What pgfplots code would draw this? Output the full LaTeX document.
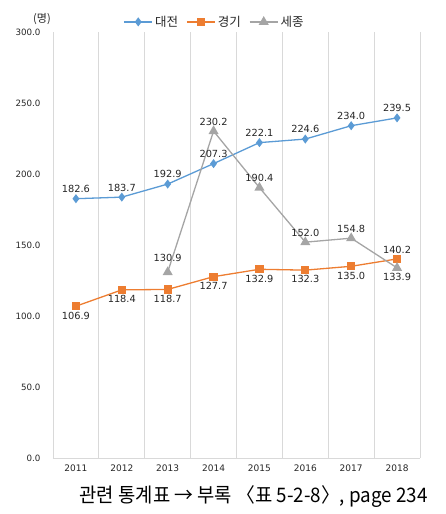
\documentclass[border=0pt]{standalone}
\usepackage{fontspec}
\setmainfont{Noto Sans CJK KR}
\newfontfamily\numfont{DejaVu Sans}
\usepackage{pgfplots}
\pgfplotsset{compat=1.18}
\definecolor{cBlue}{RGB}{91,155,213}
\definecolor{cOrange}{RGB}{237,125,49}
\definecolor{cGray}{RGB}{165,165,165}
\definecolor{gridc}{RGB}{217,217,217}
\definecolor{txt}{RGB}{38,38,38}
\begin{document}
\begin{tikzpicture}
\useasboundingbox (-53pt,-56pt) rectangle (393pt,458pt);
\begin{axis}[
  at={(0,0)}, anchor=south west,
  scale only axis, width=367pt, height=426pt,
  xmin=-0.5, xmax=7.5, ymin=0, ymax=300,
  xtick={0,...,7}, xticklabels={2011,2012,2013,2014,2015,2016,2017,2018},
  minor xtick={-0.5,0.5,...,7.5},
  xminorgrids, minor grid style={draw=gridc, line width=0.9pt},
  ytick={0,50,...,300},
  major tick length=0pt, minor tick length=0pt,
  axis x line*=bottom, axis y line*=left,
  x axis line style={draw=gridc, line width=0.9pt, -},
  y axis line style={draw=none},
  /pgf/number format/.cd, fixed, fixed zerofill, precision=1, assume math mode=true,
  /pgfplots/.cd,
  yticklabel style={font=\numfont\fontsize{8.7}{10}\selectfont, text=txt, xshift=-9pt},
  xticklabel style={font=\numfont\fontsize{9}{10}\selectfont, text=txt, yshift=-3pt},
  every node near coord/.append style={font=\numfont\fontsize{9.8}{11}\selectfont, text=txt},
  clip=false,
  legend style={at={(0.44,1)}, anchor=south, yshift=0pt, draw=none, fill=none,
    legend columns=3, font=\fontsize{12.5}{13}\selectfont, text=txt,
    /tikz/every even column/.append style={column sep=6pt},
    /tikz/every odd column/.append style={column sep=0pt}},
  legend image code/.code={\draw[mark repeat=2,mark phase=2] plot coordinates {(0cm,0cm)(0.5cm,0cm)(1cm,0cm)};},
]
% Daejeon
\addplot[cBlue, line width=1.3pt, mark=diamond*, mark size=3.5pt,
  nodes near coords, nodes near coords align=above,
  every node near coord/.append style={yshift=2pt}]
  coordinates {(0,182.6)(1,183.7)(2,192.9)(3,207.3)(4,222.1)(5,224.6)(6,234.0)(7,239.5)};
\addlegendentry{대전}
% Gyeonggi
\addplot[cOrange, line width=1.3pt, mark=square*, mark size=3.5pt]
  coordinates {(0,106.9)(1,118.4)(2,118.7)(3,127.7)(4,132.9)(5,132.3)(6,135.0)(7,140.2)};
\addlegendentry{경기}
% Sejong
\addplot[cGray, line width=1.3pt, mark=triangle*, mark size=4.5pt]
  coordinates {(2,130.9)(3,230.2)(4,190.4)(5,152.0)(6,154.8)(7,133.9)};
\addlegendentry{세종}
% labels
\addplot[draw=none, mark=none, forget plot, nodes near coords, nodes near coords align=below,
  every node near coord/.append style={yshift=-2pt}]
  coordinates {(0,106.9)(1,118.4)(2,118.7)(3,127.7)(4,132.9)(5,132.3)(6,135.0)};
\addplot[draw=none, mark=none, forget plot, nodes near coords, nodes near coords align=above,
  every node near coord/.append style={yshift=2pt}]
  coordinates {(7,140.2)};
\addplot[draw=none, mark=none, forget plot, nodes near coords, nodes near coords align=above,
  every node near coord/.append style={yshift=2pt}]
  coordinates {(3,230.2)(4,190.4)(5,152.0)(6,154.8)};
\addplot[draw=none, mark=none, forget plot, nodes near coords, nodes near coords align=above,
  every node near coord/.append style={yshift=7pt}]
  coordinates {(2,130.9)};
\addplot[draw=none, mark=none, forget plot, nodes near coords, nodes near coords align=below,
  every node near coord/.append style={yshift=-2pt}]
  coordinates {(7,133.9)};
\end{axis}
\node[font=\fontsize{11}{12}\selectfont, text=txt] at (-11pt,439pt) {(명)};
\node[anchor=east, font=\fontsize{20}{22}\selectfont, text=black] at (378pt,-39pt) {\scalebox{0.94}[1]{관련 통계표 → 부록 〈표 5-2-8〉, page 234}};
\end{tikzpicture}
\end{document}
